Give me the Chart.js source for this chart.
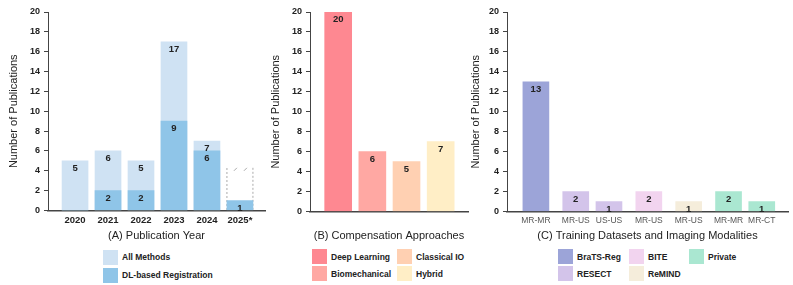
<!DOCTYPE html>
<html>
<head>
<meta charset="utf-8">
<script src="https://cdn.jsdelivr.net/npm/chart.js@4.4.0/dist/chart.umd.min.js"></script>
<style>
  body { margin: 0; background: #fff; width: 793px; height: 285px; overflow: hidden; position: relative;
         font-family: "Liberation Sans", Arial, sans-serif; }
  canvas { position: absolute; top: 0; }
  .legend { position: absolute; display: grid; grid-auto-flow: column; font-size: 8.5px; font-weight: bold; color: #222; }
  .legend .item { display: flex; align-items: center; white-space: nowrap; }
  .legend i { display: inline-block; width: 15px; height: 15px; margin-right: 4px; }
</style>
</head>
<body>
<canvas id="chartA" width="268" height="244" style="left:0"></canvas>
<canvas id="chartB" width="208" height="244" style="left:262px"></canvas>
<canvas id="chartC" width="327" height="244" style="left:466px"></canvas>
<div id="legendA" class="legend" style="left:103px;top:248px;grid-template-rows:18px 18px"></div>
<div id="legendB" class="legend" style="left:312px;top:248px;grid-template-rows:17px 17px;grid-template-columns:85px auto"></div>
<div id="legendC" class="legend" style="left:558px;top:248px;grid-template-rows:17px 17px;grid-template-columns:71px 60px auto"></div>

<script>
// (A) publications per year
const years = ['2020', '2021', '2022', '2023', '2024', '2025*'];
const allMethods = [5, 6, 5, 17, 7, null];
const dlRegistration = [0, 2, 2, 9, 6, 1];
const projectedAll = [null, null, null, null, null, 4.3];

// (B) compensation approaches
const approaches = ['Deep Learning', 'Biomechanical', 'Classical IO', 'Hybrid'];
const approachCounts = [20, 6, 5, 7];
const approachColors = ['#fe8891', '#ffa8a3', '#ffd0b2', '#ffeec6'];

// (C) training datasets and modalities
const datasetNames = ['BraTS-Reg', 'RESECT', 'BITE', 'ReMIND', 'Private'];
const datasetModalities = [['MR-MR'], ['MR-US', 'US-US'], ['MR-US'], ['MR-US'], ['MR-MR', 'MR-CT']];
const datasetCounts = [[13], [2, 1], [2], [1], [2, 1]];
const datasetColors = ['#9ca4d8', '#d3c4ea', '#f2d4ef', '#f5eddb', '#aae7d1'];

const FONT = '"Liberation Sans", Arial, sans-serif';

const valueLabels = {
  id: 'valueLabels',
  afterDatasetsDraw(chart) {
    const ctx = chart.ctx;
    ctx.save();
    ctx.font = 'bold 9.5px ' + FONT;
    ctx.fillStyle = '#222';
    ctx.textAlign = 'center';
    ctx.textBaseline = 'middle';
    chart.data.datasets.forEach((ds, i) => {
      if (ds.noLabels) return;
      chart.getDatasetMeta(i).data.forEach((bar, j) => {
        const v = ds.data[j].y;
        if (!v) return;
        ctx.fillText(v, bar.x, bar.y + 7.5);
      });
    });
    ctx.restore();
  }
};

// dashed outline for the partial year
const dashedOutline = {
  id: 'dashedOutline',
  beforeDatasetsDraw(chart) {
    const ctx = chart.ctx;
    chart.data.datasets.forEach((ds, i) => {
      if (!ds.dashed) return;
      chart.getDatasetMeta(i).data.forEach((bar, j) => {
        if (ds.data[j].y == null) return;
        const p = bar.getProps(['x', 'y', 'base', 'width'], true);
        const l = p.x - p.width / 2, r = p.x + p.width / 2;
        ctx.save();
        ctx.strokeStyle = '#aaa';
        ctx.lineWidth = 1;
        ctx.setLineDash([2, 2]);
        ctx.beginPath();
        ctx.moveTo(l, p.base); ctx.lineTo(l, p.y);
        ctx.moveTo(r, p.y); ctx.lineTo(r, p.base);
        ctx.stroke();
        ctx.setLineDash([]);
        ctx.beginPath();
        ctx.moveTo(p.x - 6, p.y + 3); ctx.lineTo(p.x - 3, p.y);
        ctx.moveTo(p.x + 4, p.y + 3); ctx.lineTo(p.x + 7, p.y);
        ctx.stroke();
        ctx.restore();
      });
    });
  }
};

function yAxis(width) {
  return {
    min: 0, max: 20,
    ticks: { stepSize: 2, font: { size: 9, weight: 'bold', family: FONT }, color: '#222', padding: 4 },
    grid: { drawOnChartArea: false, tickLength: 4, color: '#444' },
    border: { color: '#444' },
    title: { display: true, text: 'Number of Publications', font: { size: 11, family: FONT }, color: '#222', padding: 0 },
    afterFit(s) { s.width = width; }
  };
}

function xAxis(title, min, max, positions, labels, tickFont, tickColor) {
  const hasLabels = labels.length > 0;
  return {
    type: 'linear', min: min, max: max, offset: false,
    grid: { display: false, drawTicks: false, tickLength: 0 },
    border: { color: '#444', width: 1.5 },
    afterBuildTicks(s) { s.ticks = positions.map(v => ({ value: v })); },
    ticks: {
      display: hasLabels,
      autoSkip: false, maxRotation: 0, padding: 5,
      font: Object.assign({ lineHeight: 1 }, tickFont), color: tickColor,
      callback: (v, i) => labels[i]
    },
    title: { display: true, text: title, font: { size: 11, family: FONT, lineHeight: 1 }, color: '#222',
             padding: { top: hasLabels ? 0 : 18.5, bottom: 3 } }
  };
}

function baseOptions(scales, pad) {
  return {
    responsive: false,
    animation: false,
    layout: { padding: pad },
    plugins: { legend: { display: false }, tooltip: { enabled: false } },
    scales: scales
  };
}

function buildLegend(id, items) {
  const el = document.getElementById(id);
  items.forEach(it => {
    const d = document.createElement('div');
    d.className = 'item';
    d.innerHTML = '<i style="background:' + it.color + '"></i>' + it.label;
    el.appendChild(d);
  });
}

// ---- chart A
const yearPos = years.map((_, i) => i);
const dsAll = {
  label: 'All Methods', data: allMethods.map((v, i) => ({ x: i, y: v })),
  backgroundColor: '#cfe2f3', barThickness: 26, grouped: false, order: 1
};
const dsDL = {
  label: 'DL-based Registration', data: dlRegistration.map((v, i) => ({ x: i, y: v })),
  backgroundColor: '#8fc5e8', barThickness: 26, grouped: false, order: 0
};
const dsProj = {
  label: 'projected', data: projectedAll.map((v, i) => ({ x: i, y: v })),
  backgroundColor: 'rgba(0,0,0,0)', barThickness: 26, grouped: false, order: 2,
  dashed: true, noLabels: true
};
new Chart(document.getElementById('chartA'), {
  type: 'bar',
  data: { datasets: [dsAll, dsDL, dsProj] },
  options: baseOptions({
    x: xAxis('(A) Publication Year', -0.82, 5.76, yearPos, years,
      { size: 9.5, weight: 'bold', family: FONT }, '#222'),
    y: yAxis(41)
  }, { left: 7, right: 3, top: 12, bottom: 0 }),
  plugins: [valueLabels, dashedOutline]
});
buildLegend('legendA', [dsAll, dsDL].map(d => ({ label: d.label, color: d.backgroundColor })));

// ---- chart B
const approachPos = approaches.map((_, i) => i);
new Chart(document.getElementById('chartB'), {
  type: 'bar',
  data: {
    datasets: approaches.map((name, i) => ({
      label: name, data: [{ x: i, y: approachCounts[i] }],
      backgroundColor: approachColors[i], barThickness: 27, grouped: false
    }))
  },
  options: baseOptions({
    x: xAxis('(B) Compensation Approaches', -0.825, 3.8, approachPos, [], {}, '#222'),
    y: yAxis(41)
  }, { left: 7, right: 2, top: 12, bottom: 0 }),
  plugins: [valueLabels]
});
buildLegend('legendB', approaches.map((name, i) => ({ label: name, color: approachColors[i] })));

// ---- chart C
const barPos = [], barLabels = [];
let k = 0;
const dsC = datasetNames.map((name, g) => {
  const pts = datasetModalities[g].map((m, j) => {
    const pos = k + g * 0.2;
    barPos.push(pos); barLabels.push(m); k++;
    return { x: pos, y: datasetCounts[g][j] };
  });
  return { label: name, data: pts, backgroundColor: datasetColors[g], barThickness: 26, grouped: false };
});
new Chart(document.getElementById('chartC'), {
  type: 'bar',
  data: { datasets: dsC },
  options: baseOptions({
    x: xAxis('(C) Training Datasets and Imaging Modalities', -0.87, 7.59, barPos, barLabels,
      { size: 8.5, family: FONT }, '#555'),
    y: yAxis(38)
  }, { left: 3, right: 5, top: 12, bottom: 0 }),
  plugins: [valueLabels]
});
buildLegend('legendC', dsC.map(d => ({ label: d.label, color: d.backgroundColor })));
</script>
</body>
</html>
